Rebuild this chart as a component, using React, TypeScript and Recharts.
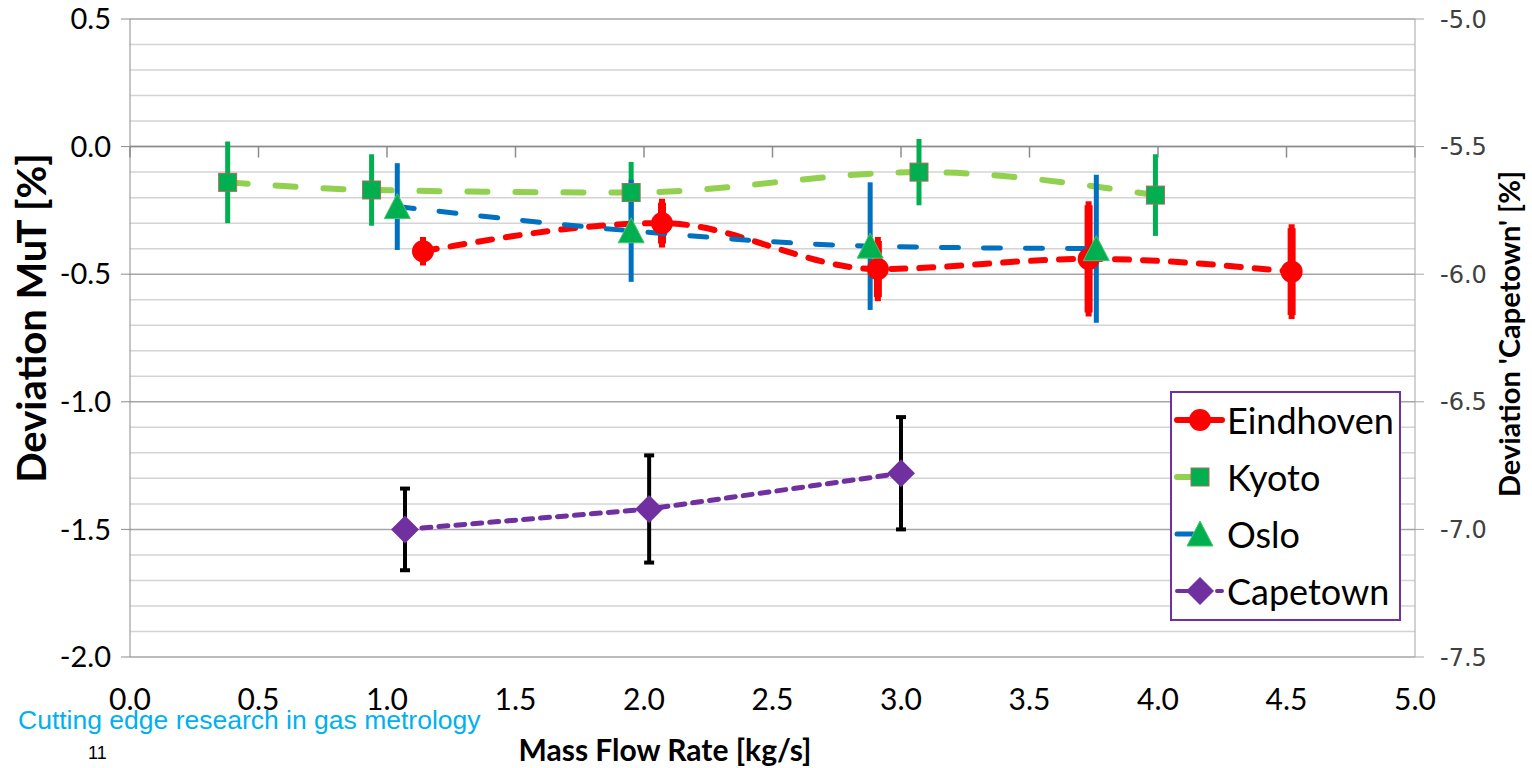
import React from "react";
import {
  CartesianGrid,
  ComposedChart,
  ErrorBar,
  Line,
  ReferenceLine,
  XAxis,
  YAxis,
} from "recharts";

// axis ticks
const xTicks = [0, 0.5, 1, 1.5, 2, 2.5, 3, 3.5, 4, 4.5, 5];
const leftTicks = [-2, -1.5, -1, -0.5, 0, 0.5];
const rightTicks = [-7.5, -7, -6.5, -6, -5.5, -5];
const minorGrid = [
  -1.9, -1.8, -1.7, -1.6, -1.4, -1.3, -1.2, -1.1, -0.9, -0.8, -0.7, -0.6,
  -0.4, -0.3, -0.2, -0.1, 0.1, 0.2, 0.3, 0.4,
];

// series
const eindhovenX = [1.14, 2.07, 2.91, 3.73, 4.52];
const eindhovenY = [-0.41, -0.3, -0.48, -0.44, -0.49];
const eindhovenErr = [0.04, 0.08, 0.11, 0.21, 0.17];

const kyotoX = [0.38, 0.94, 1.95, 3.07, 3.99];
const kyotoY = [-0.14, -0.17, -0.18, -0.1, -0.19];
const kyotoErr = [0.16, 0.14, 0.12, 0.13, 0.16];

const osloX = [1.04, 1.95, 2.88, 3.76];
const osloY = [-0.235, -0.33, -0.39, -0.4];
const osloErr = [0.17, 0.2, 0.25, 0.29];

const capetownX = [1.07, 2.02, 3.0];
const capetownY = [-7.0, -6.92, -6.78];
const capetownErr = [0.16, 0.21, 0.22];

const toRows = (xs: number[], ys: number[], errs: number[]) =>
  xs.map((x, i) => ({ x, y: ys[i], err: errs[i] }));

const eindhoven = toRows(eindhovenX, eindhovenY, eindhovenErr);
const kyoto = toRows(kyotoX, kyotoY, kyotoErr);
const oslo = toRows(osloX, osloY, osloErr);
const capetown = toRows(capetownX, capetownY, capetownErr);

const RED = "#FF0000";
const LIGHT_GREEN = "#92D050";
const GREEN = "#00B050";
const BLUE = "#0070C0";
const PURPLE = "#7030A0";

const SANS = "Lato, 'Open Sans', sans-serif";

function CircleDot(props: any) {
  const { cx, cy, index } = props;
  return <circle key={`c-${index}`} cx={cx} cy={cy} r={11} fill={RED} />;
}

function SquareDot(props: any) {
  const { cx, cy, index } = props;
  return (
    <rect
      key={`s-${index}`}
      x={cx - 9}
      y={cy - 9}
      width={18}
      height={18}
      fill={GREEN}
      stroke="#A0705A"
      strokeWidth={1}
    />
  );
}

function TriangleDot(props: any) {
  const { cx, cy, index } = props;
  return (
    <polygon
      key={`t-${index}`}
      points={`${cx},${cy - 13} ${cx + 13},${cy + 12} ${cx - 13},${cy + 12}`}
      fill={GREEN}
      stroke="#4CC46A"
      strokeWidth={1}
    />
  );
}

function DiamondDot(props: any) {
  const { cx, cy, index } = props;
  return (
    <polygon
      key={`d-${index}`}
      points={`${cx},${cy - 14} ${cx + 14},${cy} ${cx},${cy + 14} ${cx - 14},${cy}`}
      fill={PURPLE}
    />
  );
}

const legendItems = [
  { name: "Eindhoven", line: RED, width: 6, marker: "circle" },
  { name: "Kyoto", line: LIGHT_GREEN, width: 6, marker: "square" },
  { name: "Oslo", line: BLUE, width: 5, marker: "triangle" },
  { name: "Capetown", line: PURPLE, width: 4, marker: "diamond" },
];

function LegendIcon({ item }: { item: (typeof legendItems)[number] }) {
  const cy = 15;
  let marker: React.ReactNode = null;
  if (item.marker === "circle") marker = <CircleDot cx={27} cy={cy} />;
  if (item.marker === "square") marker = <SquareDot cx={27} cy={cy} />;
  if (item.marker === "triangle") marker = <TriangleDot cx={27} cy={cy} />;
  if (item.marker === "diamond") marker = <DiamondDot cx={27} cy={cy} />;
  const x2 = item.marker === "circle" || item.marker === "diamond" ? 49 : 20;
  return (
    <svg width={54} height={30} style={{ display: "block" }}>
      <line
        x1={4}
        y1={cy}
        x2={x2}
        y2={cy}
        stroke={item.line}
        strokeWidth={item.width}
        strokeLinecap="round"
        strokeDasharray={item.marker === "diamond" ? "30 10" : undefined}
      />
      {marker}
    </svg>
  );
}

function LeftTitle({ viewBox }: any) {
  const x = viewBox.x + 31;
  const y = viewBox.y + viewBox.height / 2 - 20;
  return (
    <text
      x={x}
      y={y}
      transform={`rotate(-90 ${x} ${y})`}
      textAnchor="middle"
      dominantBaseline="central"
      fontFamily={SANS}
      fontWeight={700}
      fontSize={40}
      fill="#000"
    >
      Deviation MuT [%]
    </text>
  );
}

function RightTitle({ viewBox }: any) {
  const x = viewBox.x + 93;
  const y = viewBox.y + viewBox.height / 2 - 4;
  return (
    <text
      x={x}
      y={y}
      transform={`rotate(-90 ${x} ${y})`}
      textAnchor="middle"
      dominantBaseline="central"
      fontFamily={SANS}
      fontWeight={700}
      fontSize={29}
      fill="#000"
    >
      Deviation &apos;Capetown&apos; [%]
    </text>
  );
}

function BottomTitle({ viewBox }: any) {
  return (
    <text
      x={viewBox.x + 535}
      y={viewBox.y + 104}
      textAnchor="middle"
      fontFamily={SANS}
      fontWeight={700}
      fontSize={30}
      fill="#000"
    >
      Mass Flow Rate [kg/s]
    </text>
  );
}

export default function App() {
  return (
    <div
      style={{
        position: "absolute",
        left: 0,
        top: 0,
        width: 1532,
        height: 768,
        background: "#fff",
        overflow: "hidden",
      }}
    >
      <ComposedChart
        width={1532}
        height={768}
        margin={{ top: 19, right: 0, bottom: 0, left: 0 }}
      >
        <CartesianGrid
          horizontalValues={minorGrid}
          vertical={false}
          stroke="#D4D4D4"
          strokeWidth={1.5}
        />
        <CartesianGrid
          horizontalValues={leftTicks}
          vertical={false}
          stroke="#A6A6A6"
          strokeWidth={1.5}
        />
        <XAxis
          type="number"
          dataKey="x"
          domain={[0, 5]}
          ticks={xTicks}
          tickFormatter={(v: number) => v.toFixed(1)}
          axisLine={false}
          tickLine={false}
          tickSize={0}
          tickMargin={32}
          height={111}
          interval={0}
          tick={{ fontSize: 30, fill: "#000", fontFamily: SANS }}
          label={<BottomTitle />}
        />
        <YAxis
          domain={[-2, 0.5]}
          ticks={leftTicks}
          tickFormatter={(v: number) => v.toFixed(1)}
          width={130}
          stroke="#8C8C8C"
          tickSize={9}
          tickMargin={10}
          interval={0}
          tick={{ fontSize: 29, fill: "#000", fontFamily: SANS }}
          label={<LeftTitle />}
        />
        <YAxis
          yAxisId="right"
          orientation="right"
          domain={[-7.5, -5]}
          ticks={rightTicks}
          tickFormatter={(v: number) => v.toFixed(1)}
          width={117}
          stroke="#A6A6A6"
          tickSize={9}
          tickMargin={16}
          interval={0}
          tick={{
            fontSize: 24,
            fill: "#404040",
            fontFamily: "'DejaVu Sans', sans-serif",
          }}
          label={<RightTitle />}
        />
        {/* horizontal axis crosses at zero, tick marks hang below it */}
        <ReferenceLine y={0} stroke="#8C8C8C" strokeWidth={1.5} />
        {xTicks.map((t) => (
          <ReferenceLine
            key={`xt-${t}`}
            segment={[
              { x: t, y: 0 },
              { x: t, y: -0.043 },
            ]}
            stroke="#8C8C8C"
            strokeWidth={1.5}
          />
        ))}

        <Line
          data={eindhoven}
          dataKey="y"
          type="monotone"
          stroke={RED}
          strokeWidth={6}
          strokeDasharray="14 14"
          strokeLinecap="round"
          dot={CircleDot}
          activeDot={false}
          isAnimationActive={false}
        >
          <ErrorBar
            dataKey="err"
            direction="y"
            stroke={RED}
            strokeWidth={8}
            width={3}
          />
        </Line>
        <Line
          data={kyoto}
          dataKey="y"
          type="monotone"
          stroke={LIGHT_GREEN}
          strokeWidth={6}
          strokeDasharray="20 28"
          strokeLinecap="round"
          dot={SquareDot}
          activeDot={false}
          isAnimationActive={false}
        >
          <ErrorBar
            dataKey="err"
            direction="y"
            stroke={GREEN}
            strokeWidth={5}
            width={0}
          />
        </Line>
        <Line
          data={oslo}
          dataKey="y"
          type="monotone"
          stroke={BLUE}
          strokeWidth={5}
          strokeDasharray="17 25"
          strokeLinecap="round"
          dot={TriangleDot}
          activeDot={false}
          isAnimationActive={false}
        >
          <ErrorBar
            dataKey="err"
            direction="y"
            stroke={BLUE}
            strokeWidth={5}
            width={0}
          />
        </Line>
        <Line
          yAxisId="right"
          data={capetown}
          dataKey="y"
          type="linear"
          stroke={PURPLE}
          strokeWidth={5}
          strokeDasharray="9 8"
          strokeLinecap="round"
          dot={DiamondDot}
          activeDot={false}
          isAnimationActive={false}
        >
          <ErrorBar
            dataKey="err"
            direction="y"
            stroke="#000"
            strokeWidth={4}
            width={5}
          />
        </Line>
      </ComposedChart>

      <div
        style={{
          position: "absolute",
          left: 1170,
          top: 391,
          width: 227,
          height: 226,
          border: `2px solid ${PURPLE}`,
          background: "#fff",
        }}
      >
        {legendItems.map((item, i) => (
          <div
            key={item.name}
            style={{
              position: "absolute",
              left: 1,
              top: 7 + i * 57,
              height: 40,
              display: "flex",
              alignItems: "center",
              gap: 0,
            }}
          >
            <LegendIcon item={item} />
            <span
              style={{
                fontFamily: SANS,
                fontSize: 36,
                color: "#000",
                lineHeight: "40px",
              }}
            >
              {item.name}
            </span>
          </div>
        ))}
      </div>

      <svg
        width={1532}
        height={768}
        style={{ position: "absolute", left: 0, top: 0, pointerEvents: "none" }}
      >
        <text
          x={18}
          y={729}
          fontFamily="'Liberation Sans', Arial, sans-serif"
          fontSize={26.5}
          fill="#00B0F0"
        >
          Cutting edge research in gas metrology
        </text>
        <text
          x={88}
          y={759}
          fontFamily="'Liberation Sans', Arial, sans-serif"
          fontSize={18}
          fill="#000"
        >
          11
        </text>
      </svg>
    </div>
  );
}
